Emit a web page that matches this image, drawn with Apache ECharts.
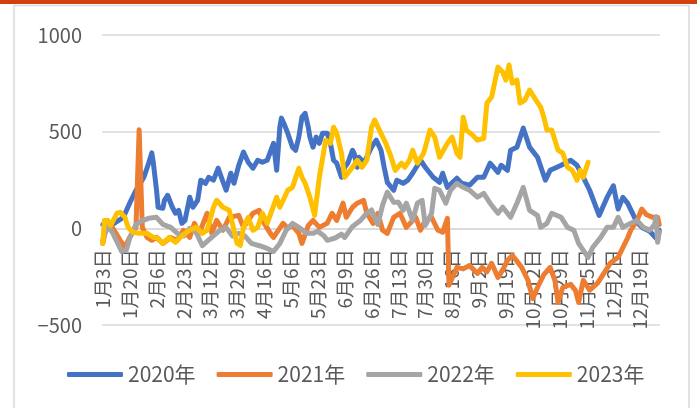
<!DOCTYPE html>
<html>
<head>
<meta charset="utf-8">
<script src="https://cdn.jsdelivr.net/npm/echarts@6/dist/echarts.min.js"></script>
<style>
  html, body { margin: 0; padding: 0; background: #fff; }
  #chart { width: 697px; height: 408px; }
</style>
</head>
<body>
<div id="chart"></div>
<script>
// categories: trading-calendar days, 1/3 .. 12/31, a few holidays missing
var monthDays = [31, 28, 31, 30, 31, 30, 31, 31, 30, 31, 30, 31];
var skipDays = ['1-1', '1-2', '4-4', '5-1', '5-2', '5-3', '10-1', '10-2', '10-3', '10-4', '10-5', '10-6'];
var categories = [];
for (var m = 1; m <= 12; m++) {
  for (var d = 1; d <= monthDays[m - 1]; d++) {
    if (skipDays.indexOf(m + '-' + d) >= 0) continue;
    categories.push(m + '月' + d + '日');
  }
}

var seriesNames = ['2020年', '2021年', '2022年', '2023年'];
var colors = ['#4472C4', '#ED7D31', '#A5A5A5', '#FFC000'];

// [day index, value]
var s2020 = [[0,20],[4,10],[8,30],[13,57],[17,130],[21,197],[26,264],[29,337],[31,390],[32,337],[34,197],[35,109],[38,104],[39,145],[41,171],[44,109],[46,78],[48,93],[50,26],[52,41],[55,161],[57,109],[60,145],[62,249],[65,233],[67,264],[70,249],[73,311],[75,264],[78,197],[81,285],[83,233],[86,326],[89,394],[92,342],[95,311],[98,352],[101,342],[104,352],[108,440],[110,300],[112,523],[113,570],[115,534],[117,492],[120,420],[122,404],[124,472],[126,575],[128,595],[130,523],[131,472],[133,420],[135,472],[137,440],[139,492],[142,492],[144,440],[146,352],[148,337],[151,264],[153,316],[155,337],[158,404],[159,388],[161,316],[162,368],[165,340],[167,368],[170,420],[173,456],[176,404],[178,316],[180,238],[184,197],[186,249],[190,233],[193,249],[196,285],[201,352],[204,316],[209,264],[213,238],[215,285],[218,212],[224,259],[227,233],[232,223],[237,264],[241,264],[245,337],[250,290],[252,326],[256,300],[258,404],[262,420],[266,518],[270,420],[275,368],[280,249],[283,300],[290,326],[296,352],[300,326],[304,264],[308,197],[314,67],[319,160],[323,220],[326,100],[329,160],[332,130],[335,80],[338,30],[342,0],[346,-15],[351,-60],[352,-10]];

var s2021 = [[0,-78],[3,41],[6,5],[11,-62],[14,-98],[17,-47],[21,5],[23,510],[25,5],[28,-47],[31,-62],[34,-47],[38,-78],[43,-47],[47,-62],[51,-10],[55,-47],[58,26],[61,-26],[66,78],[69,-26],[72,41],[76,-10],[80,57],[86,67],[89,5],[95,78],[99,93],[101,41],[106,-26],[108,-47],[114,26],[117,0],[120,15],[124,-26],[126,-78],[130,15],[133,41],[137,5],[142,26],[145,78],[148,41],[152,130],[154,57],[158,109],[161,130],[165,145],[167,78],[171,26],[174,78],[177,-10],[180,-26],[184,57],[188,78],[192,5],[198,57],[201,-10],[204,41],[208,57],[212,-10],[215,-20],[218,52],[219,-295],[224,-202],[228,-210],[232,-192],[237,-233],[240,-202],[243,-225],[246,-181],[250,-254],[253,-215],[256,-166],[259,-140],[262,-170],[265,-202],[269,-269],[272,-363],[275,-306],[279,-240],[283,-202],[286,-269],[288,-383],[291,-306],[296,-290],[299,-321],[301,-383],[304,-269],[308,-320],[313,-283],[317,-233],[321,-181],[326,-150],[329,-100],[332,-50],[334,-10],[338,41],[341,100],[344,70],[348,57],[351,57],[352,20]];

var s2022 = [[0,-60],[3,10],[6,-20],[9,-70],[12,-120],[15,-110],[17,-50],[21,20],[25,40],[29,52],[34,57],[38,20],[43,5],[47,-25],[51,-40],[55,0],[59,-20],[63,-90],[67,-60],[74,-10],[78,5],[82,-40],[86,-25],[90,-40],[94,-78],[99,-90],[104,-104],[108,-120],[112,-78],[116,-10],[120,26],[124,5],[129,-26],[133,-26],[136,-15],[140,-40],[142,-62],[147,-50],[151,-30],[153,-47],[158,10],[163,41],[167,78],[170,95],[174,20],[177,120],[180,187],[184,135],[187,135],[190,93],[192,130],[196,41],[199,130],[202,145],[204,15],[208,78],[210,207],[213,197],[217,130],[220,197],[224,233],[228,212],[232,197],[237,161],[241,181],[245,130],[250,78],[253,109],[258,57],[262,130],[266,212],[270,93],[275,67],[277,5],[281,26],[284,78],[290,57],[294,5],[298,-10],[301,-78],[304,-114],[307,-150],[310,-98],[315,-47],[319,5],[323,5],[326,57],[329,5],[334,26],[338,41],[342,5],[346,-10],[349,20],[350,60],[351,-72],[352,-20]];

var s2023 = [[0,-78],[1,41],[3,41],[5,15],[9,78],[11,83],[14,57],[16,5],[19,-20],[23,-26],[28,-26],[32,-47],[35,-52],[38,-78],[42,-47],[46,-72],[49,-47],[52,-26],[55,-10],[59,5],[63,-26],[66,-10],[70,109],[72,145],[76,109],[80,93],[85,-78],[87,-88],[89,5],[92,57],[95,-10],[98,5],[101,78],[104,26],[107,93],[110,161],[112,109],[115,161],[117,197],[120,212],[124,311],[126,264],[128,233],[131,161],[134,67],[137,264],[141,456],[144,440],[146,523],[148,492],[151,389],[153,264],[158,316],[161,352],[164,316],[167,352],[170,523],[172,560],[175,508],[179,440],[182,378],[185,300],[189,337],[191,316],[194,352],[196,404],[199,337],[203,389],[207,508],[210,472],[213,368],[218,440],[221,472],[224,389],[226,368],[228,575],[230,508],[234,482],[237,456],[241,466],[243,648],[246,679],[250,834],[253,808],[255,767],[257,845],[259,751],[262,767],[264,648],[267,663],[270,715],[274,663],[277,627],[279,575],[281,508],[284,508],[288,404],[291,389],[294,316],[297,300],[300,249],[302,300],[304,264],[307,342]];

var yTicks = { min: -500, max: 1000, interval: 500 };
var allData = [s2020, s2021, s2022, s2023];

var chart = echarts.init(document.getElementById('chart'));
var font = '"Noto Sans CJK SC", "Noto Sans", sans-serif';
var textColor = '#595959';
var gridTop = 35, gridBottom = 83, gridH = 408 - gridTop - gridBottom;
// shift the category axis up to the zero line
var zeroOffset = -gridH * (0 - yTicks.min) / (yTicks.max - yTicks.min);

var option = {
  animation: false,
  backgroundColor: '#fff',
  textStyle: { fontFamily: font },
  graphic: [
    { type: 'rect', shape: { x: 14, y: 5.5, width: 675, height: 410 },
      style: { fill: 'none', stroke: '#D9D9D9', lineWidth: 1.5 }, z: -1 },
    { type: 'rect', shape: { x: 0, y: 0, width: 697, height: 4 },
      style: { fill: '#D2400C' } }
  ],
  grid: { left: 102, right: 37, top: gridTop, bottom: gridBottom },
  legend: {
    data: seriesNames,
    left: 67,
    top: 364,
    icon: 'roundRect',
    itemWidth: 56,
    itemHeight: 5,
    itemGap: 21,
    padding: 0,
    textStyle: { fontSize: 21, color: textColor, fontFamily: font }
  },
  xAxis: {
    type: 'category',
    data: categories,
    boundaryGap: true,
    offset: zeroOffset,
    axisLine: { onZero: false, lineStyle: { color: '#D9D9D9', width: 1.5 } },
    axisTick: { show: false },
    axisLabel: {
      interval: 16,
      rotate: 90,
      margin: 21,
      fontSize: 19,
      color: textColor,
      fontFamily: font
    }
  },
  yAxis: {
    type: 'value',
    min: yTicks.min,
    max: yTicks.max,
    interval: yTicks.interval,
    axisLine: { show: false },
    axisTick: { show: false },
    splitLine: { lineStyle: { color: '#D9D9D9', width: 1.5 } },
    axisLabel: {
      margin: 20,
      fontSize: 20,
      color: textColor,
      fontFamily: font,
      formatter: function (v) { return String(v).replace('-', '\u2212'); }
    }
  },
  series: seriesNames.map(function (name, k) {
    return {
      name: name,
      type: 'line',
      data: allData[k],
      showSymbol: false,
      symbol: 'none',
      color: colors[k],
      lineStyle: { width: 5, color: colors[k], cap: 'round', join: 'round' }
    };
  })
};

chart.setOption(option);
</script>
</body>
</html>
